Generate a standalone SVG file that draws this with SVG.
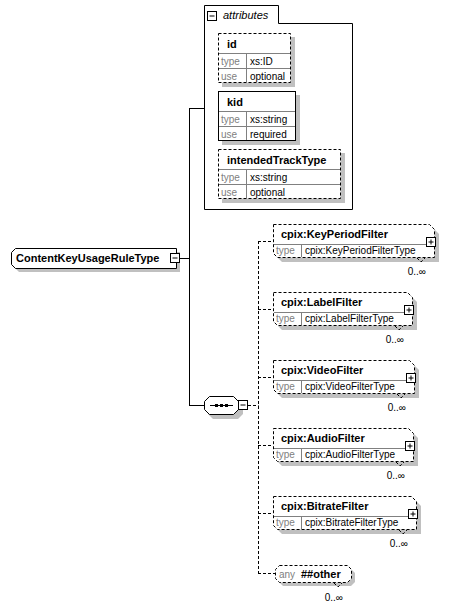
<svg xmlns="http://www.w3.org/2000/svg" width="449" height="609" viewBox="0 0 449 609">
<style>
text{font-family:"Liberation Sans",Arial,sans-serif;fill:#000}
.h{font-weight:bold;font-size:11px}
.v{font-size:10px}
.g{font-size:10px;fill:#808080}
.it{font-style:italic;font-size:11px}
.box{fill:#fff;stroke:#000;stroke-width:1}
.dash{fill:#fff;stroke:#000;stroke-width:1;stroke-dasharray:3,2}
.sh{fill:#c0c0c0;stroke:none}
.sep{stroke:#808080;stroke-width:1;fill:none}
.ln{stroke:#000;stroke-width:1;fill:none}
.dl{stroke:#000;stroke-width:1;fill:none;stroke-dasharray:3,2}
.ic{fill:#fff;stroke:#000;stroke-width:1}
</style>
<defs>
<g id="minus"><rect class="ic" x="0.5" y="0.5" width="9" height="9"/><path class="ln" d="M2.5 5H7.5"/></g>
<g id="plus"><rect class="ic" x="0.5" y="0.5" width="9" height="9"/><path class="ln" d="M2.5 5H7.5M5 2.5V7.5"/></g>
</defs>

<g id="connectors">
<path class="ln" d="M179 258.5H189.5M189.5 108V405.5M189 108.5H204M189 405.5H204"/>
<path class="dl" d="M248 405.5H258.5M258.5 241V573M258 241.5H273M258 309.5H273M258 377.5H273M258 445.5H273M258 513.5H273M258 573.5H275"/>
</g>

<g id="node-root">
<path class="sh" d="M19 252H180V272H19L15 268V256Z"/>
<path class="box" d="M15.5 248.5H176.5V268.5H15.5L11.5 264.5V252.5Z"/>
<text class="h" x="16" y="262">ContentKeyUsageRuleType</text>
<use href="#minus" x="170" y="253"/>
</g>

<g id="node-attributes">
<path class="box" d="M204.5 5.5H278.5V23.5H352.5V209.5H204.5Z"/>
<use href="#minus" x="207" y="11"/>
<text class="it" x="223" y="19">attributes</text>
</g>

<g id="attr-id">
<rect class="sh" x="222" y="37" width="73" height="50"/>
<rect class="dash" x="218.5" y="33.5" width="72" height="49"/>
<path class="sep" d="M219 53.5H290M219 68.5H290M246.5 54V82"/>
<text class="h" x="227" y="48">id</text>
<text class="g" x="221" y="65">type</text><text class="v" x="250" y="65">xs:ID</text>
<text class="g" x="221" y="80">use</text><text class="v" x="250" y="80">optional</text>
</g>

<g id="attr-kid">
<rect class="sh" x="222" y="95" width="78" height="50"/>
<rect class="box" x="218.5" y="91.5" width="77" height="49"/>
<path class="sep" d="M219 111.5H295M219 126.5H295M246.5 112V140"/>
<text class="h" x="227" y="106">kid</text>
<text class="g" x="221" y="123">type</text><text class="v" x="250" y="123">xs:string</text>
<text class="g" x="221" y="138">use</text><text class="v" x="250" y="138">required</text>
</g>

<g id="attr-intendedTrackType">
<rect class="sh" x="222" y="153" width="123" height="50"/>
<rect class="dash" x="218.5" y="149.5" width="122" height="49"/>
<path class="sep" d="M219 169.5H340M219 184.5H340M246.5 170V198"/>
<text class="h" x="227" y="164">intendedTrackType</text>
<text class="g" x="221" y="181">type</text><text class="v" x="250" y="181">xs:string</text>
<text class="g" x="221" y="196">use</text><text class="v" x="250" y="196">optional</text>
</g>

<g id="node-sequence">
<path class="sh" d="M213 401H238L243 406V414L238 419H213L208 414V406Z"/>
<path class="box" d="M209.5 396.5H233.5L238.5 401.5V409.5L233.5 414.5H209.5L204.5 409.5V401.5Z"/>
<path class="ln" d="M210 405.5H233"/>
<rect x="215" y="404" width="3" height="3" fill="#000"/>
<rect x="220" y="404" width="3" height="3" fill="#000"/>
<rect x="225" y="404" width="3" height="3" fill="#000"/>
<use href="#minus" x="238" y="400"/>
</g>

<g id="el-KeyPeriodFilter">
<path class="sh" d="M278 229H434L439 234V262H282L278 258Z"/>
<path class="dash" d="M273.5 224.5H429.5L434.5 229.5V257.5H277.5L273.5 253.5Z"/>
<path class="sep" d="M274 244.5H434M301.5 245V257"/>
<text class="h" x="281" y="238">cpix:KeyPeriodFilter</text>
<text class="g" x="276" y="254">type</text><text class="v" x="305" y="254">cpix:KeyPeriodFilterType</text>
<use href="#plus" x="426" y="237"/>
<path class="dl" d="M417 258L421 262L425 258"/>
<text class="v" x="426" y="275" text-anchor="end">0..∞</text>
</g>

<g id="el-LabelFilter">
<path class="sh" d="M278 297H412L417 302V330H282L278 326Z"/>
<path class="dash" d="M273.5 292.5H407.5L412.5 297.5V325.5H277.5L273.5 321.5Z"/>
<path class="sep" d="M274 312.5H412M301.5 313V325"/>
<text class="h" x="281" y="306">cpix:LabelFilter</text>
<text class="g" x="276" y="322">type</text><text class="v" x="305" y="322">cpix:LabelFilterType</text>
<use href="#plus" x="404" y="305"/>
<path class="dl" d="M395 326L399 330L403 326"/>
<text class="v" x="404" y="343" text-anchor="end">0..∞</text>
</g>

<g id="el-VideoFilter">
<path class="sh" d="M278 365H414L419 370V398H282L278 394Z"/>
<path class="dash" d="M273.5 360.5H409.5L414.5 365.5V393.5H277.5L273.5 389.5Z"/>
<path class="sep" d="M274 380.5H414M301.5 381V393"/>
<text class="h" x="281" y="374">cpix:VideoFilter</text>
<text class="g" x="276" y="390">type</text><text class="v" x="305" y="390">cpix:VideoFilterType</text>
<use href="#plus" x="406" y="373"/>
<path class="dl" d="M397 394L401 398L405 394"/>
<text class="v" x="406" y="411" text-anchor="end">0..∞</text>
</g>

<g id="el-AudioFilter">
<path class="sh" d="M278 433H413L418 438V466H282L278 462Z"/>
<path class="dash" d="M273.5 428.5H408.5L413.5 433.5V461.5H277.5L273.5 457.5Z"/>
<path class="sep" d="M274 448.5H413M301.5 449V461"/>
<text class="h" x="281" y="442">cpix:AudioFilter</text>
<text class="g" x="276" y="458">type</text><text class="v" x="305" y="458">cpix:AudioFilterType</text>
<use href="#plus" x="405" y="441"/>
<path class="dl" d="M396 462L400 466L404 462"/>
<text class="v" x="405" y="479" text-anchor="end">0..∞</text>
</g>

<g id="el-BitrateFilter">
<path class="sh" d="M278 501H416L421 506V534H282L278 530Z"/>
<path class="dash" d="M273.5 496.5H411.5L416.5 501.5V529.5H277.5L273.5 525.5Z"/>
<path class="sep" d="M274 516.5H416M301.5 517V529"/>
<text class="h" x="281" y="510">cpix:BitrateFilter</text>
<text class="g" x="276" y="526">type</text><text class="v" x="305" y="526">cpix:BitrateFilterType</text>
<use href="#plus" x="408" y="509"/>
<path class="dl" d="M399 530L403 534L407 530"/>
<text class="v" x="408" y="547" text-anchor="end">0..∞</text>
</g>

<g id="el-any">
<path class="sh" d="M283 569H351L355 573V582L351 586H283L279 582V573Z"/>
<path class="dash" d="M279.5 565.5H347.5L351.5 569.5V578.5L347.5 582.5H279.5L275.5 578.5V569.5Z"/>
<text class="g" x="279" y="578">any</text>
<text class="h" x="301" y="578">##other</text>
<path class="dl" d="M334 583L338 587L342 583"/>
<text class="v" x="343" y="601" text-anchor="end">0..∞</text>
</g>
</svg>
